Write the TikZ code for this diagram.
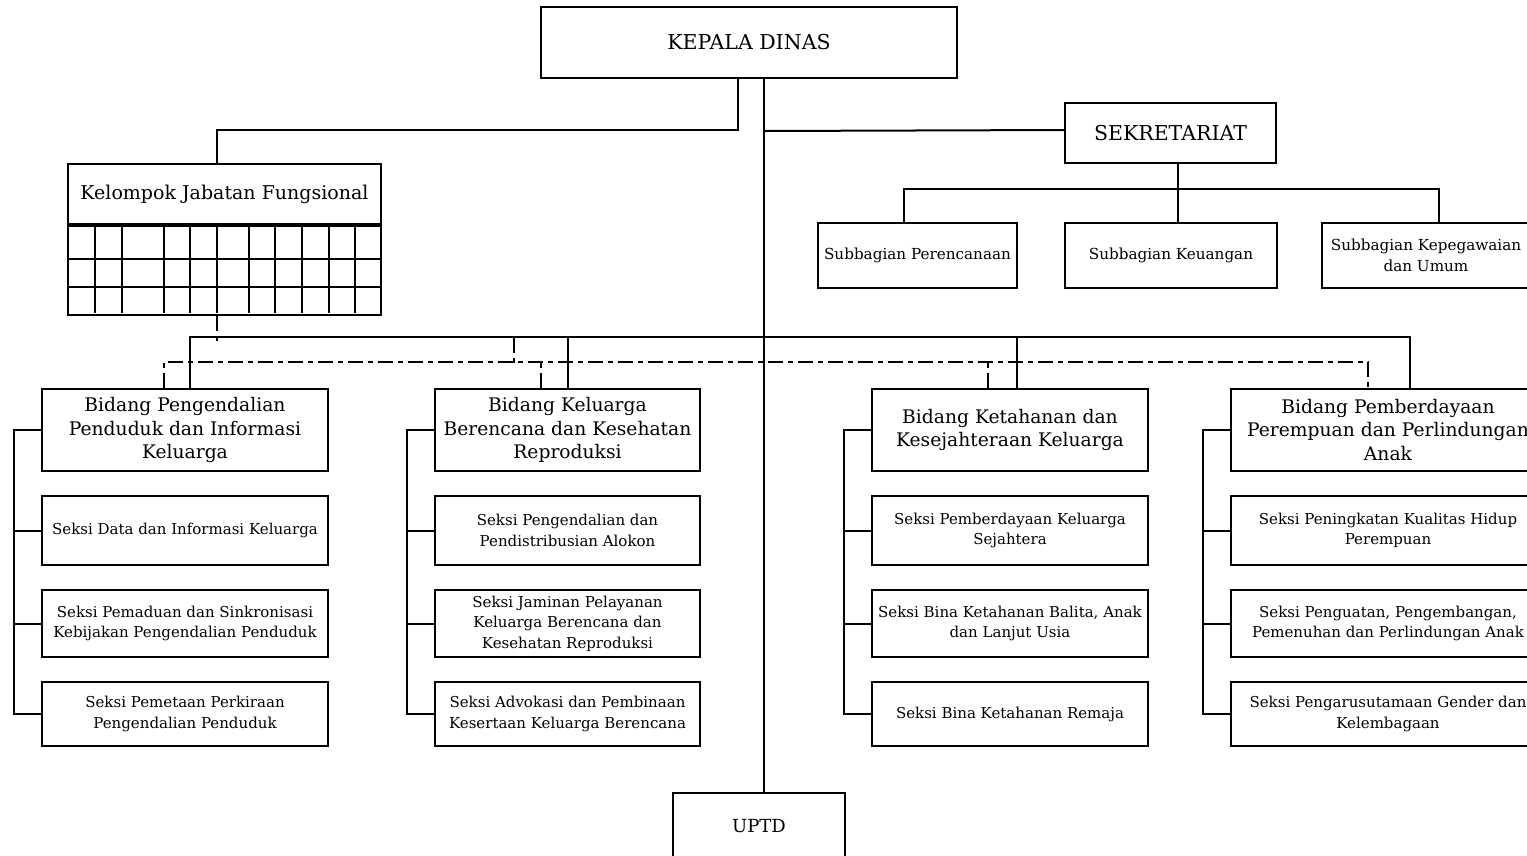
\documentclass[tikz,border=0pt]{standalone}
\usepackage{fontspec}
\setmainfont{DejaVu Serif}
\usetikzlibrary{positioning}
\tikzset{
  box/.style={draw, line width=2pt, align=center, inner sep=2pt},
  headbox/.style={box, font=\fontsize{20.5}{24}\selectfont},
  bidbox/.style={box, minimum height=82pt, font=\fontsize{18.7}{23.5}\selectfont},
  subbox/.style={box, minimum height=65pt, font=\fontsize{15.2}{21}\selectfont},
  sekbox/.style={box, font=\fontsize{15}{20.5}\selectfont},
  link/.style={line width=2pt},
  dlink/.style={line width=2pt, dash pattern=on 15pt off 5pt on 5pt off 5pt},
}
\begin{document}
\begin{tikzpicture}[x=1pt,y=1pt]
			\useasboundingbox (0,0) rectangle (1527,-855);
			\fill[white] (0,0) rectangle (1527,-855);
			\clip (0,0) rectangle (1527,-855);
			% top
			\node[headbox, minimum width=416pt, minimum height=71pt] (kepala) at (749,-42.5) {KEPALA DINAS};
			\node[headbox, minimum width=211pt, minimum height=60pt] (sekre) at (1170.5,-133) {SEKRETARIAT};
			\node[headbox, font=\fontsize{19}{22}\selectfont, minimum width=313pt, minimum height=60pt] (kjf) at (224.5,-194) {Kelompok Jabatan Fungsional};
			\node[box, minimum width=313pt, minimum height=89pt, anchor=north] (kjfgrid) at (kjf.south) {};
			\foreach \gx in {95,122,164,190,217,249,275,302,329,355}
				\draw[link] (\gx,-224) -- (\gx,-313);
			\foreach \gy in {-259,-287}
				\draw[link] (68,\gy) -- (381,\gy);
			\node[headbox, font=\fontsize{18}{22}\selectfont, minimum width=172pt, minimum height=66pt] (uptd) at (759,-826) {UPTD};
			% sekretariat
			\node[subbox, minimum width=199pt] (subren) at (917.5,-255.5) {Subbagian Perencanaan};
			\node[subbox, minimum width=212pt] (subkeu) at (1171,-255.5) {Subbagian Keuangan};
			\node[subbox, minimum width=208pt] (subpeg) at (1426,-255.5) {Subbagian Kepegawaian\\dan Umum};
			% bidang
			\node[bidbox, minimum width=286pt] (bid1) at (185,-430) {Bidang Pengendalian\\Penduduk dan Informasi\\Keluarga};
			\node[bidbox, minimum width=265pt] (bid2) at (567.5,-430) {Bidang Keluarga\\Berencana dan Kesehatan\\Reproduksi};
			\node[bidbox, minimum width=276pt] (bid3) at (1010,-430) {Bidang Ketahanan dan\\Kesejahteraan Keluarga};
			\node[bidbox, minimum width=314pt] (bid4) at (1388,-430) {Bidang Pemberdayaan\\Perempuan dan Perlindungan\\Anak};
			% seksi
			\node[sekbox, minimum width=286pt, minimum height=69pt] (sek11) at (185,-530.5) {Seksi Data dan Informasi Keluarga};
			\node[sekbox, minimum width=286pt, minimum height=67pt] (sek12) at (185,-623.5) {Seksi Pemaduan dan Sinkronisasi\\Kebijakan Pengendalian Penduduk};
			\node[sekbox, minimum width=286pt, minimum height=64pt] (sek13) at (185,-714) {Seksi Pemetaan Perkiraan\\Pengendalian Penduduk};
			\node[sekbox, minimum width=265pt, minimum height=69pt] (sek21) at (567.5,-530.5) {Seksi Pengendalian dan\\Pendistribusian Alokon};
			\node[sekbox, minimum width=265pt, minimum height=67pt] (sek22) at (567.5,-623.5) {Seksi Jaminan Pelayanan\\Keluarga Berencana dan\\Kesehatan Reproduksi};
			\node[sekbox, minimum width=265pt, minimum height=64pt] (sek23) at (567.5,-714) {Seksi Advokasi dan Pembinaan\\Kesertaan Keluarga Berencana};
			\node[sekbox, minimum width=276pt, minimum height=69pt] (sek31) at (1010,-530.5) {Seksi Pemberdayaan Keluarga\\Sejahtera};
			\node[sekbox, minimum width=276pt, minimum height=67pt] (sek32) at (1010,-623.5) {Seksi Bina Ketahanan Balita, Anak\\dan Lanjut Usia};
			\node[sekbox, minimum width=276pt, minimum height=64pt] (sek33) at (1010,-714) {Seksi Bina Ketahanan Remaja};
			\node[sekbox, minimum width=314pt, minimum height=69pt] (sek41) at (1388,-530.5) {Seksi Peningkatan Kualitas Hidup\\Perempuan};
			\node[sekbox, minimum width=314pt, minimum height=67pt] (sek42) at (1388,-623.5) {Seksi Penguatan, Pengembangan,\\Pemenuhan dan Perlindungan Anak};
			\node[sekbox, minimum width=314pt, minimum height=64pt] (sek43) at (1388,-714) {Seksi Pengarusutamaan Gender dan\\Kelembagaan};
			% lines
			\draw[link] ([xshift=-11pt]kepala.south) -- ++(0,-51) -| ([xshift=-7.5pt]kjf.north);
			\draw[link] ([xshift=15pt]kepala.south) -- ([xshift=5pt]uptd.north);
			\draw[link] ([xshift=15pt,yshift=-52pt]kepala.south) -- ([yshift=3pt]sekre.west);
			\draw[link] ([xshift=7.5pt]sekre.south) -- ([xshift=7pt]subkeu.north);
			\draw[link] ([xshift=-13.5pt]subren.north) -- ++(0,33) -| ([xshift=13pt]subpeg.north);
			\draw[link] ([xshift=5pt]bid1.north) -- ++(0,51) -| ([xshift=22pt]bid4.north);
			\draw[link] (bid2.north) -- ++(0,51);
			\draw[link] ([xshift=7pt]bid3.north) -- ++(0,51);
			\draw[dlink] ([xshift=-7.5pt]kjfgrid.south) -- ++(0,-25);
			\draw[dlink] (514,-338) -- (514,-363);
			\draw[dlink] ([xshift=-21pt]bid1.north) -- ++(0,26) -| ([xshift=-20pt]bid4.north);
			\draw[dlink] ([xshift=-26.5pt]bid2.north) -- ++(0,26);
			\draw[dlink] ([xshift=-22pt]bid3.north) -- ++(0,26);
			\foreach \c in {1,...,4} {
				\draw[link] (bid\c.west) -- ++(-27,0) |- (sek\c3.west);
				\draw[link] (sek\c1.west) -- ++(-27,0);
				\draw[link] (sek\c2.west) -- ++(-27,0);
			}
\end{tikzpicture}
\end{document}
